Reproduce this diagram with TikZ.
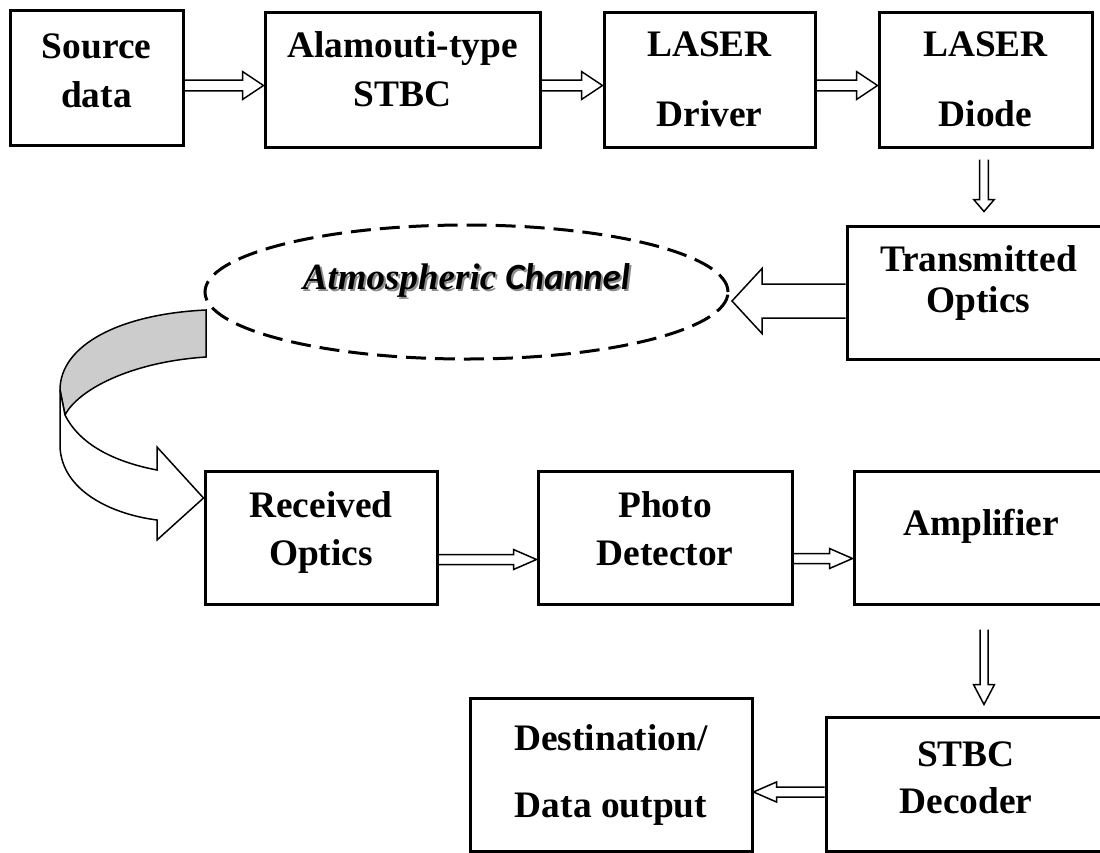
\documentclass[tikz,border=0pt]{standalone}
\usepackage{fontspec}
\setmainfont{Liberation Serif}
\newfontfamily\chanfont{Carlito}
\usetikzlibrary{calc,shapes.geometric}

\tikzset{
  block/.style={draw, line width=1.5pt, align=center,
    font=\bfseries\fontsize{18.7}{22.4}\selectfont},
  channel/.style={draw, dashed, ellipse, line width=1.5pt,
    dash pattern=on 10pt off 4.5pt},
  chantext/.style={font=\bfseries\itshape\fontsize{18.5}{22}\selectfont},
  hollow/.style={line width=0.75pt, line join=miter},
}

% outlined block arrow: from, to, shaft half width, head half width, head length
\newcommand{\hollowarrow}[5]{%
  \path #1 coordinate (ha) #2 coordinate (hb);
  \coordinate (hh) at ($(hb)!#5!(ha)$);
  \draw[hollow] ($(ha)!#3!90:(hb)$) -- ($(hh)!#3!-90:(ha)$) -- ($(hh)!#4!-90:(ha)$)
    -- (hb) -- ($(hh)!#4!90:(ha)$) -- ($(hh)!#3!90:(ha)$) -- ($(ha)!#3!-90:(hb)$);
}

\begin{document}
\begin{tikzpicture}[x=0.5pt,y=-0.5pt]
        \useasboundingbox (0,0) rectangle (1100,853);
        \clip (0,0) rectangle (1100,853);

        % transmitter chain
        \node[block, minimum width=86.5pt, minimum height=67.5pt, text depth=7.2pt] (src) at (96.5,77.5) {Source\\[2.1pt]data};
        \node[block, minimum width=137.5pt, minimum height=67.5pt, text depth=10.3pt] (stbc) at (402.5,79.5) {Alamouti-type\\[2.1pt]STBC};
        \node[block, minimum width=105.5pt, minimum height=67.5pt] (drv) at (709.5,79.5) {LASER\\[12.6pt]Driver};
        \node[block, minimum width=106.5pt, minimum height=67.5pt] (diode) at (985.5,79.5) {LASER\\[12.6pt]Diode};
        \node[block, minimum width=131.5pt, minimum height=66.5pt, text depth=13pt] (txo) at (978.5,292.5) {Transmitted\\[-1.9pt]Optics};

        % free space link
        \node[channel, minimum width=261.5pt, minimum height=67pt] (chan) at (466.5,292) {};
        \node[chantext, text=black!45] (chanshade) at (468.5,282) {Atmospheric {\chanfont Channel}};
        \node[chantext] (chanlbl) at (466.5,280) {Atmospheric {\chanfont Channel}};
        \coordinate (chantip) at (732,301);

        % receiver chain
        \node[block, minimum width=116pt, minimum height=66.5pt, text depth=9pt] (rxo) at (321,537.5) {Received\\[1.6pt]Optics};
        \node[block, minimum width=127pt, minimum height=66.5pt, text depth=9.2pt] (pd) at (665,537.5) {Photo\\[1.6pt]Detector};
        \node[block, minimum width=127pt, minimum height=66.5pt, text depth=15pt] (amp) at (981,537.5) {Amplifier};
        \node[block, minimum width=140pt, minimum height=67pt, text depth=6pt] (dec) at (966,784) {STBC\\[1.1pt]Decoder};
        \node[block, minimum width=141pt, minimum height=76.5pt] (dest) at (611,774.5) {Destination/\\[11.1pt]Data output};

        % connectors
        \hollowarrow{($(src.east)+(0,8)$)}{($(stbc.west)+(0,6)$)}{2.65pt}{7pt}{10.5pt}
        \hollowarrow{($(stbc.east)+(0,6)$)}{($(drv.west)+(0,6)$)}{2.65pt}{7pt}{10.5pt}
        \hollowarrow{($(drv.east)+(0,6)$)}{($(diode.west)+(0,6)$)}{2.65pt}{7pt}{10.5pt}
        \hollowarrow{($(diode.south)+(-1.5,11)$)}{($(txo.north)+(5.5,-13)$)}{2.15pt}{5.15pt}{6pt}
        \hollowarrow{($(txo.west)+(0,8.5)$)}{(chantip)}{8.5pt}{16.25pt}{15pt}
        \hollowarrow{($(rxo.east)+(0,22)$)}{($(pd.west)+(0,22)$)}{2.5pt}{5pt}{11.5pt}
        \hollowarrow{($(pd.east)+(0,21)$)}{($(amp.west)+(0,21)$)}{2.5pt}{5pt}{11.5pt}
        \hollowarrow{($(amp.south)+(3,24)$)}{($(dec.north)+(18,-11)$)}{2pt}{5.25pt}{10pt}
        \hollowarrow{($(dec.west)+(0,8)$)}{($(dest.east)+(0,17.5)$)}{2.5pt}{5pt}{11.5pt}

        % twisted ribbon arrow down to the receiver
        \draw[hollow, fill=black!20] (206,310) .. controls (120,314) and (60,345) .. (60,390)
            -- (65,415) .. controls (78,390) and (130,362) .. (206,357) -- cycle;
        \draw[hollow, fill=white] (65,415) .. controls (80,445) and (115,462) .. (157,470)
            -- (157,447) -- (rxo.west |- 0,498) -- (157,540) -- (157,520)
            .. controls (110,514) and (62,490) .. (60,447) -- (60,390) -- cycle;
\end{tikzpicture}
\end{document}
